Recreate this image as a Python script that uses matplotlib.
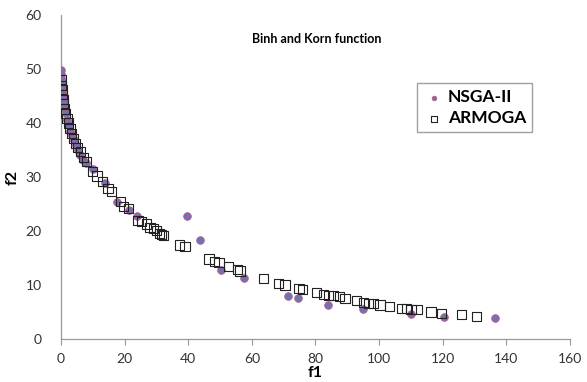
import matplotlib.pyplot as plt

plt.rcParams['font.family'] = ['Lato', 'DejaVu Sans']

# NSGA-II (purple circles)
nsga_f1 = [0.0, 0.05, 0.1, 0.2, 0.3, 0.45, 0.6, 0.8, 1.0, 1.3, 1.6, 2.0, 2.4, 2.9,
           3.4, 4.0, 4.6, 5.3, 6.1, 7.0, 7.9, 10.0, 13.8, 17.6, 21.4, 23.9,
           39.6, 43.7, 50.3, 57.5, 71.4, 74.6, 84.0, 94.9, 110.0, 120.4, 136.3]
nsga_f2 = [49.8, 49.0, 48.3, 47.6, 46.9, 45.9, 45.1, 44.3, 43.6, 42.6, 41.8, 40.6, 39.7, 38.6,
           37.7, 36.8, 35.9, 35.0, 34.0, 33.2, 32.6, 31.5, 28.9, 25.4, 23.9, 22.8,
           22.8, 18.3, 12.8, 11.3, 8.0, 7.5, 6.3, 5.5, 4.7, 4.1, 3.9]

# ARMOGA (hollow squares)
armoga_f1 = [0.1, 0.2, 0.3, 0.5, 0.7, 0.9, 1.2, 1.5, 1.9, 2.3, 2.8, 3.3, 3.9, 4.5,
             5.2, 6.2, 7.0, 8.1, 9.9, 11.3, 13.1, 14.8, 15.9, 18.6, 19.6, 21.1,
             24.2, 25.4, 26.9, 28.0, 29.0, 30.1, 31.0, 31.7, 32.2, 37.2, 39.0,
             46.5, 48.2, 49.7, 52.6, 55.4, 56.3, 63.6, 68.3, 70.4, 74.8, 76.0,
             80.4, 82.5, 84.0, 85.6, 87.5, 89.3, 93.0, 95.1, 96.6, 98.2, 100.3,
             103.2, 107.1, 108.7, 110.0, 111.9, 116.3, 119.7, 125.8, 130.7]
armoga_f2 = [48.0, 47.0, 46.2, 45.3, 44.4, 43.6, 42.6, 41.8, 40.9, 40.0, 39.0, 38.0, 37.1, 36.2,
             35.4, 34.7, 33.6, 32.8, 31.0, 30.2, 29.1, 27.8, 27.3, 25.4, 24.6, 24.2,
             22.0, 21.7, 21.3, 20.6, 20.4, 20.1, 19.6, 19.3, 19.2, 17.4, 17.1,
             14.8, 14.4, 14.1, 13.4, 12.9, 12.6, 11.2, 10.3, 10.0, 9.4, 9.2,
             8.6, 8.2, 8.0, 8.0, 7.8, 7.5, 7.2, 6.8, 6.6, 6.5, 6.3,
             6.0, 5.6, 5.6, 5.5, 5.4, 5.0, 4.7, 4.5, 4.2]

fig = plt.figure(figsize=(5.87, 3.82), dpi=100)
ax = fig.add_axes([0.1039, 0.1126, 0.8671, 0.8481])

ax.scatter(nsga_f1, nsga_f2, s=30, marker='o', facecolor='#7471b3',
           edgecolor='#b45a86', linewidth=0.6, label='NSGA-II', zorder=3)
ax.scatter(armoga_f1, armoga_f2, s=44, marker='s', facecolor='none',
           edgecolor='#222222', linewidth=0.8, label='ARMOGA', zorder=4)

ax.set_xlim(0, 160)
ax.set_ylim(0, 60)
ax.set_xticks(range(0, 161, 20))
ax.set_yticks(range(0, 61, 10))

for s in ['top', 'right']:
    ax.spines[s].set_visible(False)
for s in ['left', 'bottom']:
    ax.spines[s].set_color('#999999')
    ax.spines[s].set_linewidth(0.9)

ax.tick_params(axis='x', direction='out', length=4, color='#999999',
               labelsize=10, pad=6, labelcolor='#333333')
ax.tick_params(axis='y', length=0, labelsize=10, pad=14, labelcolor='#333333')

ax.set_xlabel('f1', fontsize=11.5, fontweight='bold', labelpad=1)
ax.set_ylabel('f2', fontsize=11.5, fontweight='bold', labelpad=4)

ax.text(0.503, 0.925, 'Binh and Korn function', transform=ax.transAxes,
        ha='center', va='center', fontsize=9, fontweight='bold')

leg = ax.legend(loc='upper left', bbox_to_anchor=(0.70, 0.79),
                prop={'weight': 'bold', 'size': 12.5}, markerscale=0.6,
                handletextpad=0.2, borderpad=0.35, labelspacing=0.3,
                borderaxespad=0, fancybox=False, frameon=True, handlelength=1.2)
leg.get_frame().set_edgecolor('#888888')
leg.get_frame().set_linewidth(1.0)

plt.savefig('out.png', dpi=100)
plt.close()
